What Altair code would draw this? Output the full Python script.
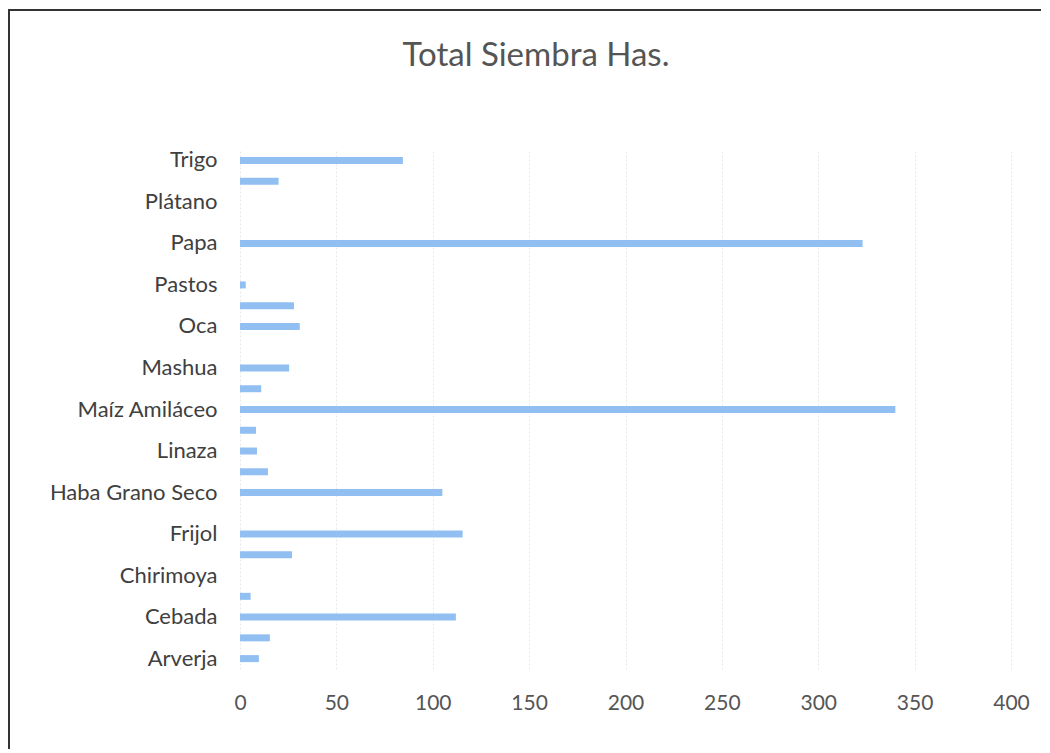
import altair as alt
import pandas as pd

# bottom-to-top order as drawn
cultivos = [
    "Arverja", "Avena", "Cebada", "Cebolla", "Chirimoya", "Chocho", "Frijol",
    "Granadilla", "Haba Grano Seco", "Haba Grano Verde", "Linaza",
    "Maíz Amarillo Duro", "Maíz Amiláceo", "Maíz Choclo", "Mashua", "Melocotón",
    "Oca", "Olluco", "Pastos", "Palta", "Papa", "Pera", "Plátano", "Quinua", "Trigo",
]
hectareas = [
    9.8, 15.5, 112, 5.5, 0, 27, 115.5,
    0, 105, 14.5, 8.8,
    8.3, 340, 11, 25.5, 0,
    31, 28, 3, 0, 323, 0, 0, 20, 84.5,
]
etiquetas_visibles = [c for i, c in enumerate(cultivos) if i % 2 == 0]
x_ticks = [0, 50, 100, 150, 200, 250, 300, 350, 400]

df = pd.DataFrame({"Cultivo": cultivos, "Has": hectareas})
orden = list(reversed(cultivos))

W, H = 771, 519
PADL, PADT = 232, 142

bars = alt.Chart(df).mark_bar(color="#92bff2", size=7).encode(
    x=alt.X("Has:Q", scale=alt.Scale(domain=[0, 400], nice=False),
            axis=alt.Axis(values=x_ticks, title=None, grid=True, gridColor="#e8e8e8",
                          gridDash=[2, 2], labelFlush=False,
                          ticks=False, domain=False, labelFont="Lato", labelFontSize=21,
                          labelColor="#555555", labelPadding=23)),
    y=alt.Y("Cultivo:N", sort=orden,
            axis=alt.Axis(values=etiquetas_visibles, title=None, ticks=False, domain=False,
                          labelFont="Lato", labelFontSize=22, labelColor="#404040",
                          labelPadding=23, labelLimit=400)),
)

one = alt.Data(values=[{"a": 1}])
title = alt.Chart(one).mark_text(font="Lato", fontSize=33, color="#555555",
                                 baseline="middle", align="center").encode(
    x=alt.value(536 - 8 - PADL), y=alt.value(56 - 8 - PADT), text=alt.value("Total Siembra Has."))
top_line = alt.Chart(one).mark_rule(color="#333333", strokeWidth=2).encode(
    x=alt.value(-PADL - 8), x2=alt.value(1050 - 8 - PADL), y=alt.value(10 - 8 - PADT))
left_line = alt.Chart(one).mark_rule(color="#333333", strokeWidth=2).encode(
    x=alt.value(9 - 8 - PADL), y=alt.value(10 - 8 - PADT), y2=alt.value(753 - 8 - PADT))

chart = alt.layer(bars, title, top_line, left_line).properties(
    width=W, height=H,
    autosize=alt.AutoSizeParams(type="none"),
    padding={"left": PADL, "top": PADT, "right": 30, "bottom": 80},
    background="white",
).configure_view(stroke=None)

chart.save("out.html", embed_options={"renderer": "svg", "actions": False})
